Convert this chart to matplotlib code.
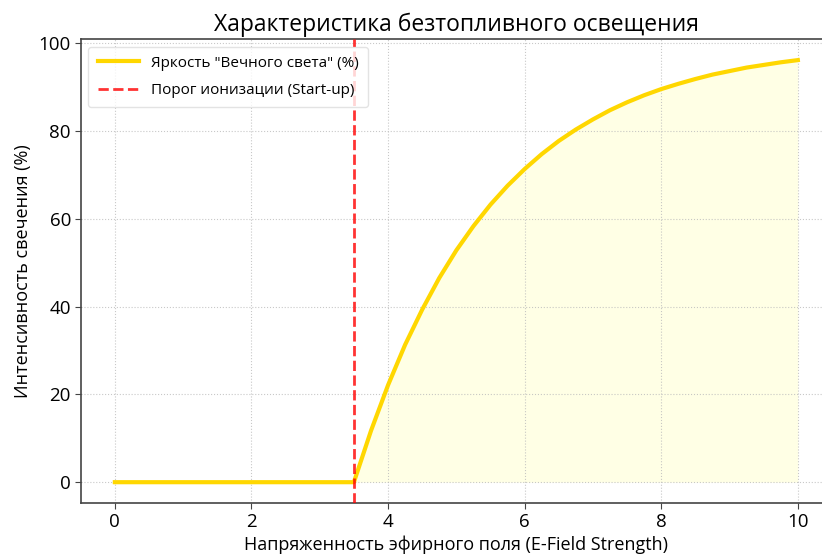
import matplotlib
matplotlib.use("Agg")
import matplotlib.pyplot as plt
import numpy as np

plt.rcParams['font.family'] = ['Open Sans', 'DejaVu Sans']

# Data
x_vals = [0.0, 0.5, 1.0, 1.5, 2.0, 2.5, 3.0, 3.5,
          3.75, 4.0, 4.25, 4.5, 4.75, 5.0, 5.25, 5.5, 5.75, 6.0,
          6.25, 6.5, 6.75, 7.0, 7.25, 7.5, 7.75, 8.0, 8.25, 8.5,
          8.75, 9.0, 9.25, 9.5, 9.75, 10.0]
brightness = [0, 0, 0, 0, 0, 0, 0, 0,
              11.7, 22.1, 31.3, 39.3, 46.5, 52.8, 58.3, 63.2, 67.5, 71.3,
              74.7, 77.7, 80.3, 82.6, 84.7, 86.5, 88.1, 89.5, 90.7, 91.8,
              92.8, 93.6, 94.4, 95.0, 95.6, 96.1]
threshold = 3.5

title = "Характеристика безтопливного освещения"
xlabel = "Напряженность эфирного поля (E-Field Strength)"
ylabel = "Интенсивность свечения (%)"
line_label = 'Яркость "Вечного света" (%)'
thr_label = "Порог ионизации (Start-up)"

fig = plt.figure(figsize=(8.22, 5.6), dpi=100)
W, H = 822, 560
ax = fig.add_axes([80.7 / W, (H - 503.3) / H, (832 - 80.7) / W, (503.3 - 39) / H])

x = np.array(x_vals)
y = np.array(brightness)
ax.plot(x, y, color='#FFD700', lw=3, label=line_label, zorder=3)
ax.axvline(threshold, color='red', ls='--', lw=2, alpha=0.8, label=thr_label, zorder=4)
ax.fill_between(x, y, 0, where=x >= threshold, color='yellow', alpha=0.1, lw=0)

ax.set_title(title, fontsize=16.5, pad=6)
ax.set_xlabel(xlabel, fontsize=13, labelpad=3)
ax.set_ylabel(ylabel, fontsize=13, labelpad=5)
ax.tick_params(labelsize=13.5, color='#444444', length=4, pad=3)
ax.grid(True, ls=':', color='#bbbbbb', alpha=0.8)
for s in ax.spines.values():
    s.set_color('#444444')
    s.set_linewidth(1.2)
ax.legend(loc='upper left', fontsize=11, frameon=True, edgecolor='#dddddd',
          fancybox=True, labelspacing=0.8, handlelength=2.7, borderpad=0.6)

fig.savefig("out.png", dpi=100)
